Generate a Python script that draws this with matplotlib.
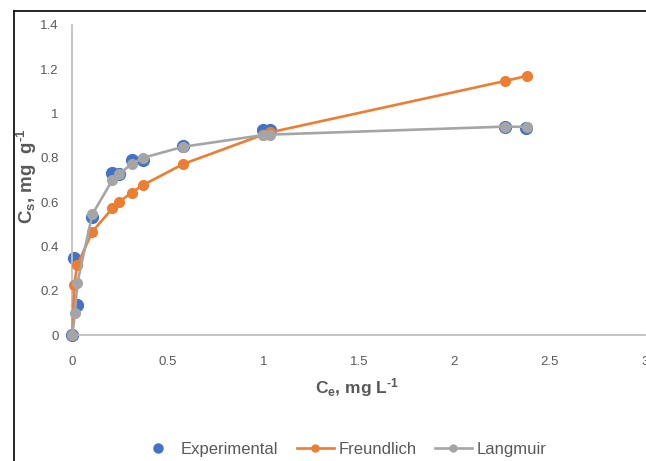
import matplotlib
matplotlib.use('Agg')
import matplotlib.pyplot as plt
from matplotlib.lines import Line2D
from matplotlib.ticker import FuncFormatter

# data
ce_exp = [0.0, 0.01, 0.026, 0.105, 0.21, 0.245, 0.31, 0.37, 0.58, 1.0, 1.035, 2.265, 2.375]
cs_exp = [0.0, 0.348, 0.135, 0.534, 0.73, 0.725, 0.79, 0.79, 0.855, 0.926, 0.926, 0.94, 0.935]

ce_fr = [0.0, 0.01, 0.026, 0.105, 0.21, 0.245, 0.31, 0.37, 0.58, 1.0, 1.035, 2.265, 2.38]
cs_fr = [0.0, 0.226, 0.316, 0.467, 0.572, 0.60, 0.643, 0.677, 0.772, 0.905, 0.915, 1.147, 1.17]

ce_la = [0.0, 0.014, 0.026, 0.105, 0.21, 0.245, 0.31, 0.37, 0.58, 1.0, 1.035, 2.265, 2.38]
cs_la = [0.0, 0.098, 0.233, 0.545, 0.70, 0.727, 0.772, 0.80, 0.85, 0.903, 0.905, 0.941, 0.94]

xticks = [0, 0.5, 1, 1.5, 2, 2.5, 3]
yticks = [0, 0.2, 0.4, 0.6, 0.8, 1.0, 1.2, 1.4]

blue = '#4472C4'
orange = '#ED7D31'
grey = '#A5A5A5'
txt = '#595959'

plt.rcParams['font.family'] = ['Liberation Sans', 'DejaVu Sans']
plt.rcParams['mathtext.fontset'] = 'custom'
plt.rcParams['mathtext.rm'] = 'Liberation Sans:bold'
plt.rcParams['mathtext.it'] = 'Liberation Sans:bold'
plt.rcParams['mathtext.bf'] = 'Liberation Sans:bold'

W, H = 646, 461
fig = plt.figure(figsize=(W / 100, H / 100), dpi=100)
ax = fig.add_axes([72.3 / W, 1 - 335 / H, (645.3 - 72.3) / W, (335 - 25) / H])

ax.plot(ce_exp, cs_exp, 'o', color=blue, ms=8.5, label='Experimental', zorder=2)
ax.plot(ce_fr, cs_fr, '-o', color=orange, ms=7, lw=1.9, label='Freundlich', zorder=3)
ax.plot(ce_la, cs_la, '-o', color=grey, ms=7, lw=1.9, label='Langmuir', zorder=4)

ax.set_xlim(0, 3)
ax.set_ylim(0, 1.4)
ax.set_xticks(xticks)
ax.set_yticks(yticks)
fmt = FuncFormatter(lambda v, p: '{:g}'.format(round(v, 2)))
ax.xaxis.set_major_formatter(fmt)
ax.yaxis.set_major_formatter(fmt)
ax.tick_params(length=0, labelsize=9.5, colors=txt)
ax.tick_params(axis='x', pad=15)
ax.tick_params(axis='y', pad=10)

for s in ['top', 'right']:
    ax.spines[s].set_visible(False)
for s in ['left', 'bottom']:
    ax.spines[s].set_color('#BFBFBF')
    ax.spines[s].set_linewidth(1.3)
for ln in ax.lines:
    ln.set_clip_on(False)

fig.text(27 / W, 1 - 176 / H, r'C$_{\mathrm{s}}$, mg  g$^{\text{-1}}$', rotation=90,
         ha='center', va='center', fontsize=13.5, fontweight='bold', color=txt)
fig.text(357 / W, 1 - 388 / H, r'C$_{\mathrm{e}}$, mg L$^{\text{-1}}$',
         ha='center', va='center', fontsize=12.5, fontweight='bold', color=txt)

handles = [Line2D([], [], ls='none', marker='o', color=blue, ms=6.5),
           Line2D([], [], color=orange, marker='o', ms=5, lw=1.9),
           Line2D([], [], color=grey, marker='o', ms=5, lw=1.9)]
leg = fig.legend(handles, ['Experimental', 'Freundlich', 'Langmuir'],
                 loc='center', bbox_to_anchor=(343 / W, 1 - 449 / H), ncol=3,
                 frameon=False, fontsize=12, handlelength=2.2, columnspacing=1.1,
                 handletextpad=0.3)
for t in leg.get_texts():
    t.set_color(txt)

# outer frame of the original chart (left and top edges only are visible)
fig.add_artist(Line2D([14 / W, 14 / W], [0, 1 - 11.5 / H], color='black', lw=1.2,
                      transform=fig.transFigure))
fig.add_artist(Line2D([14 / W, 1], [1 - 11.5 / H, 1 - 11.5 / H], color='black', lw=1.2,
                      transform=fig.transFigure))

fig.savefig('out.png', dpi=100)
